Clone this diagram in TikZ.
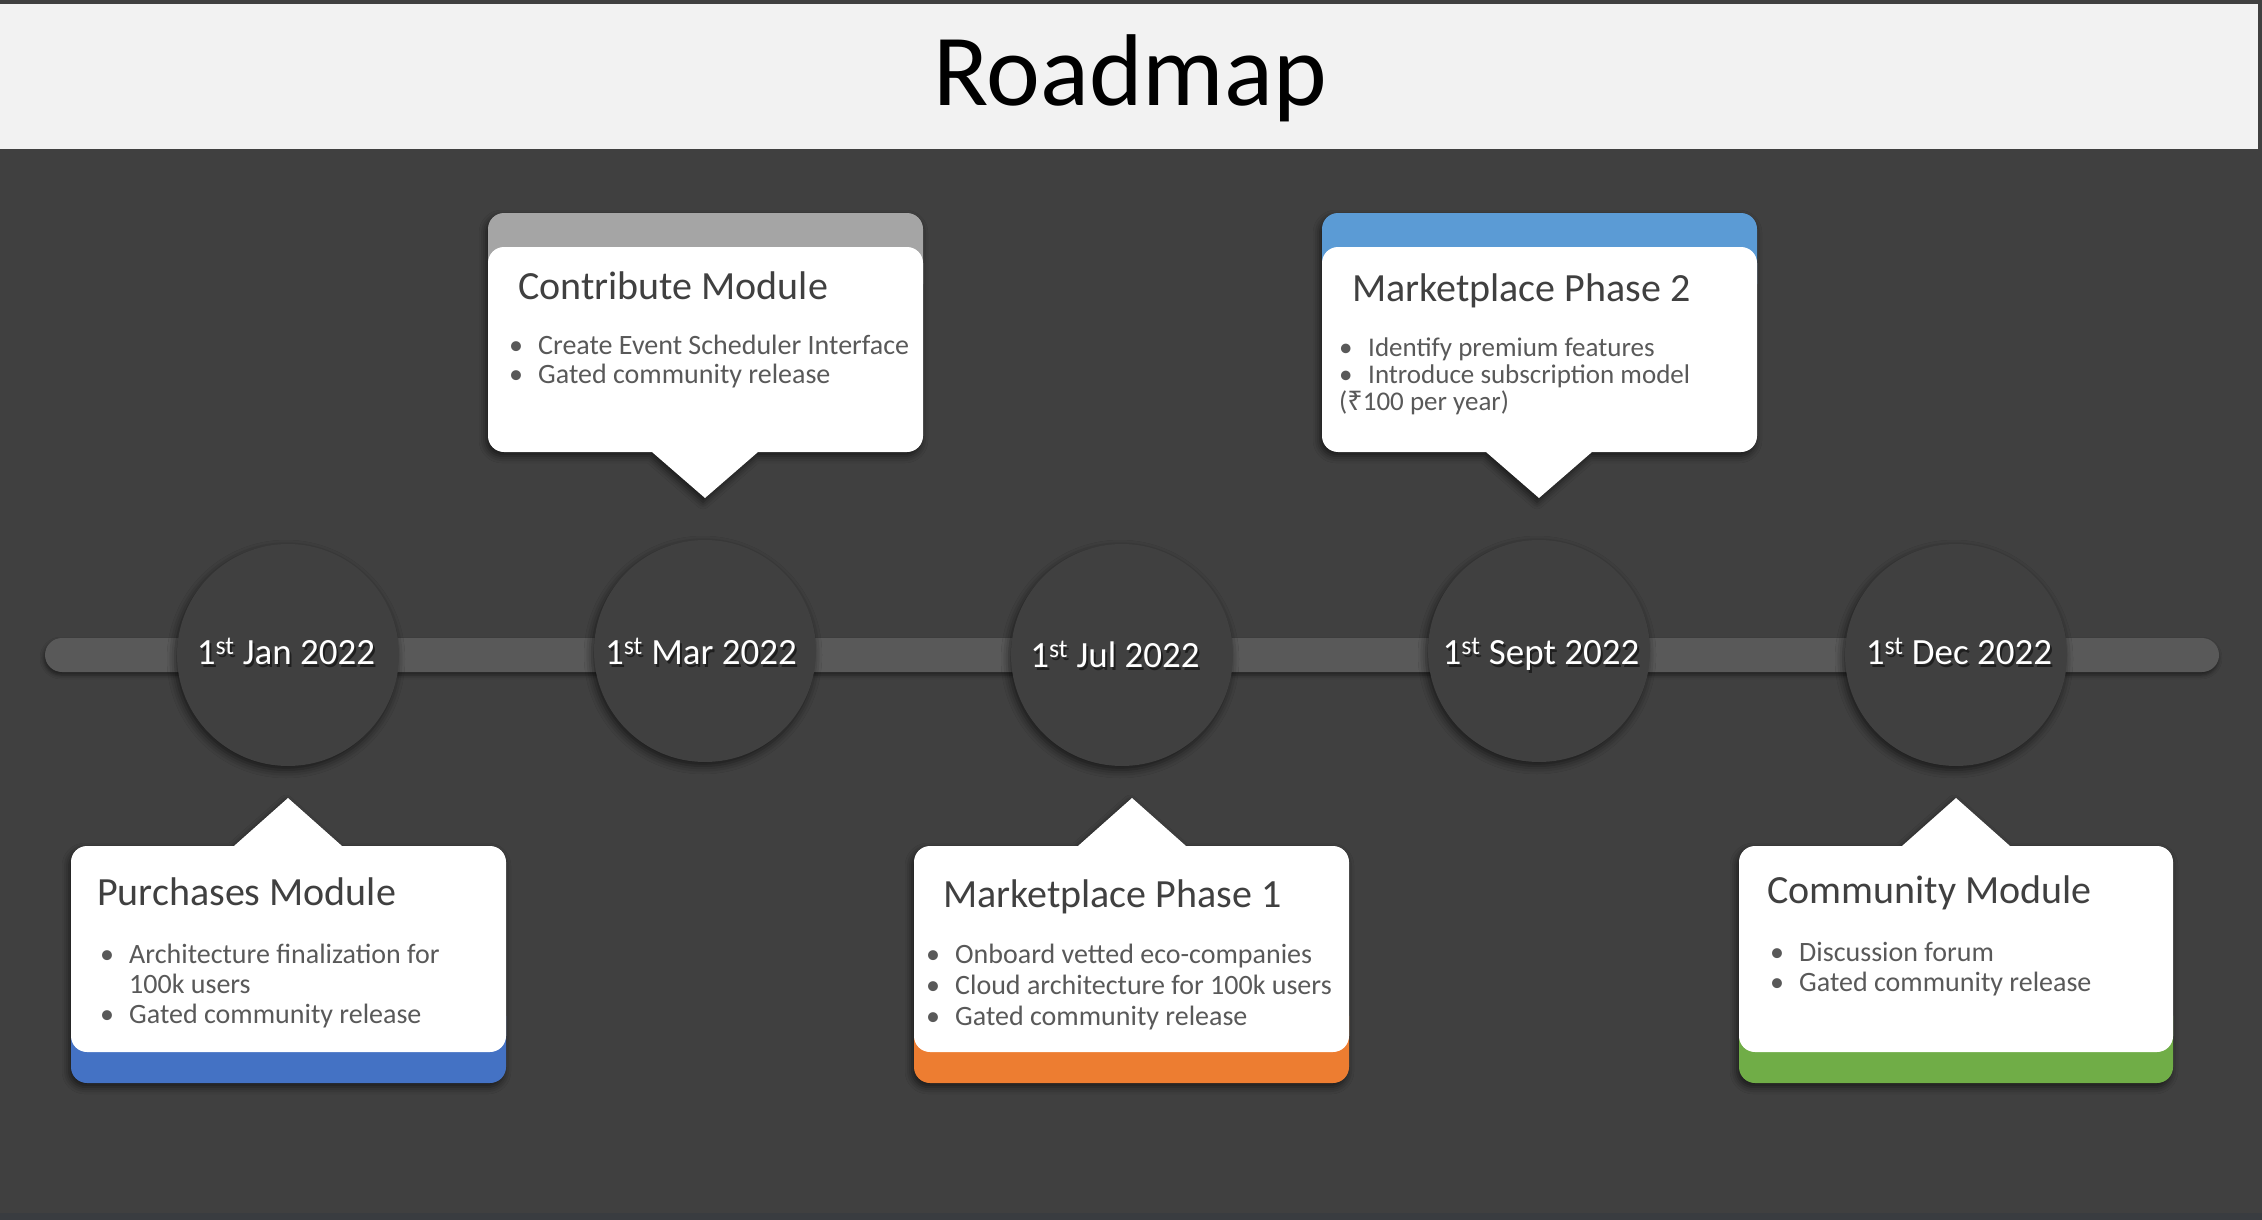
\documentclass[tikz,border=0pt]{standalone}
\usepackage{fontspec}
\setmainfont{Carlito}
\newfontfamily\rupeefont{Noto Sans}
\usetikzlibrary{shadows.blur}
\definecolor{bgdark}{HTML}{404040}
\definecolor{titleband}{HTML}{F2F2F2}
\definecolor{barcol}{HTML}{595959}
\definecolor{cardtitlecol}{HTML}{404040}
\definecolor{cardtextcol}{HTML}{595959}
\definecolor{hgray}{HTML}{A5A5A5}
\definecolor{hblue}{HTML}{5B9BD5}
\definecolor{fblue}{HTML}{4472C4}
\definecolor{forange}{HTML}{ED7D31}
\definecolor{fgreen}{HTML}{70AD47}
\definecolor{edgecol}{HTML}{393C40}
\newcommand\bul{\makebox[29pt][l]{•}}
\tikzset{
  callout down/.style n args={5}{insert path={(#5,#3) -- ({#2-16},#3) arc[start angle=-90,end angle=0,radius=16] -- (#2,{#4-16}) arc[start angle=0,end angle=90,radius=16] -- ({#5+53},#4) -- (#5,{#4+46}) -- ({#5-53},#4) -- ({#1+16},#4) arc[start angle=90,end angle=180,radius=16] -- (#1,{#3+16}) arc[start angle=180,end angle=270,radius=16] -- cycle}},
  callout up/.style n args={5}{insert path={({#1+16},#3) -- ({#5-54},#3) -- (#5,{#3-48}) -- ({#5+54},#3) -- ({#2-16},#3) arc[start angle=-90,end angle=0,radius=16] -- (#2,{#4-16}) arc[start angle=0,end angle=90,radius=16] -- ({#1+16},#4) arc[start angle=90,end angle=180,radius=16] -- (#1,{#3+16}) arc[start angle=180,end angle=270,radius=16] -- cycle}},
  cardshadow/.style={blur shadow={shadow xshift=-2pt,shadow yshift=-4pt,shadow blur radius=7pt,shadow opacity=60}},
  datecircle/.style={circle, minimum size=222pt, inner sep=0pt, fill=bgdark, blur shadow={shadow xshift=-2pt,shadow yshift=-4pt,shadow blur radius=8pt,shadow opacity=60}},
  datetext/.style={anchor=base, text=white, font=\fontsize{37}{40}\selectfont, inner sep=0pt},
  dateshadow/.style={anchor=base, text=black, opacity=0.5, font=\fontsize{37}{40}\selectfont, inner sep=0pt},
  cardtitle/.style={anchor=base west, text=cardtitlecol, font=\fontsize{40}{48}\selectfont, inner sep=0pt},
  cardbody/.style={anchor=base west, text=cardtextcol, font=\fontsize{28}{30}\selectfont, inner sep=0pt},
}
\begin{document}
\begin{tikzpicture}[x=1pt,y=-1pt]
\useasboundingbox (0,0) rectangle (2262,1220);
\fill[bgdark] (0,0) rectangle (2262,1220);
\fill[edgecol] (0,1213) rectangle (2262,1220);
\fill[titleband] (0,4) rectangle (2258,149);
\node[anchor=base, inner sep=0pt, font=\fontsize{102}{120}\selectfont] (title) at (1130,106) {Roadmap};

% timeline bar
\node[fill=barcol, minimum width=2174pt, minimum height=34pt, inner sep=0pt, rounded corners=17pt,
  blur shadow={shadow xshift=-1pt,shadow yshift=-3pt,shadow blur radius=4pt,shadow opacity=50}] (bar) at (1132,655) {};

% date circles
\node[datecircle] (d1) at (288,655) {};
\node[datecircle] (d2) at (705,651) {};
\node[datecircle] (d3) at (1122,655) {};
\node[datecircle] (d4) at (1539,651) {};
\node[datecircle] (d5) at (1956,655) {};

\node[dateshadow] (t1s) at (288,667) {1\textsuperscript{st} Jan 2022};
\node[datetext] (t1) at (286,664) {1\textsuperscript{st} Jan 2022};
\node[dateshadow] (t2s) at (703,667) {1\textsuperscript{st} Mar 2022};
\node[datetext] (t2) at (701,664) {1\textsuperscript{st} Mar 2022};
\node[dateshadow] (t3s) at (1117,670) {1\textsuperscript{st} Jul 2022};
\node[datetext] (t3) at (1115,667) {1\textsuperscript{st} Jul 2022};
\node[dateshadow] (t4s) at (1543,667) {1\textsuperscript{st} Sept 2022};
\node[datetext] (t4) at (1541,664) {1\textsuperscript{st} Sept 2022};
\node[dateshadow] (t5s) at (1961,667) {1\textsuperscript{st} Dec 2022};
\node[datetext] (t5) at (1959,664) {1\textsuperscript{st} Dec 2022};

% ---- top card: Contribute Module
\path[cardshadow, callout down={488}{923}{213}{452}{705}];
\fill[hgray, rounded corners=16pt] (488,213) rectangle (923,300);
\fill[white, callout down={488}{923}{247}{452}{705}];
\node[cardtitle] (c1title) at (518,299) {Contribute Module};
\node[cardbody, font=\fontsize{28}{29}\selectfont] (c1body) at (509,354)
  {\begin{tabular}[t]{@{}l@{}}\bul Create Event Scheduler Interface\\ \bul Gated community release\end{tabular}};

% ---- top card: Marketplace Phase 2
\path[cardshadow, callout down={1322}{1757}{213}{452}{1539}];
\fill[hblue, rounded corners=16pt] (1322,213) rectangle (1757,300);
\fill[white, callout down={1322}{1757}{247}{452}{1539}];
\node[cardtitle] (c2title) at (1352,301) {Marketplace Phase 2};
\node[cardbody, font=\fontsize{27}{27}\selectfont] (c2body) at (1339,356)
  {\begin{tabular}[t]{@{}l@{}}\bul Identify premium features\\ \bul Introduce subscription model\\ ({\rupeefont ₹}100 per year)\end{tabular}};

% ---- bottom card: Purchases Module
\path[cardshadow, callout up={71}{506}{846}{1083}{288}];
\fill[fblue, rounded corners=16pt] (71,1000) rectangle (506,1083);
\fill[white, callout up={71}{506}{846}{1052}{288}];
\node[cardtitle] (c3title) at (97,905) {Purchases Module};
\node[cardbody] (c3body) at (100,963)
  {\begin{tabular}[t]{@{}l@{}}\bul Architecture finalization for\\ \hspace*{29pt}100k users\\ \bul Gated community release\end{tabular}};

% ---- bottom card: Marketplace Phase 1
\path[cardshadow, callout up={914}{1349}{846}{1083}{1132}];
\fill[forange, rounded corners=16pt] (914,1000) rectangle (1349,1083);
\fill[white, callout up={914}{1349}{846}{1052}{1132}];
\node[cardtitle] (c4title) at (943,907) {Marketplace Phase 1};
\node[cardbody, font=\fontsize{28}{31}\selectfont] (c4body) at (926,963)
  {\begin{tabular}[t]{@{}l@{}}\bul Onboard vetted eco-companies\\ \bul Cloud architecture for 100k users\\ \bul Gated community release\end{tabular}};

% ---- bottom card: Community Module
\path[cardshadow, callout up={1739}{2173}{846}{1083}{1956}];
\fill[fgreen, rounded corners=16pt] (1739,1000) rectangle (2173,1083);
\fill[white, callout up={1739}{2173}{846}{1052}{1956}];
\node[cardtitle] (c5title) at (1767,903) {Community Module};
\node[cardbody] (c5body) at (1770,961)
  {\begin{tabular}[t]{@{}l@{}}\bul Discussion forum\\ \bul Gated community release\end{tabular}};
\end{tikzpicture}
\end{document}
